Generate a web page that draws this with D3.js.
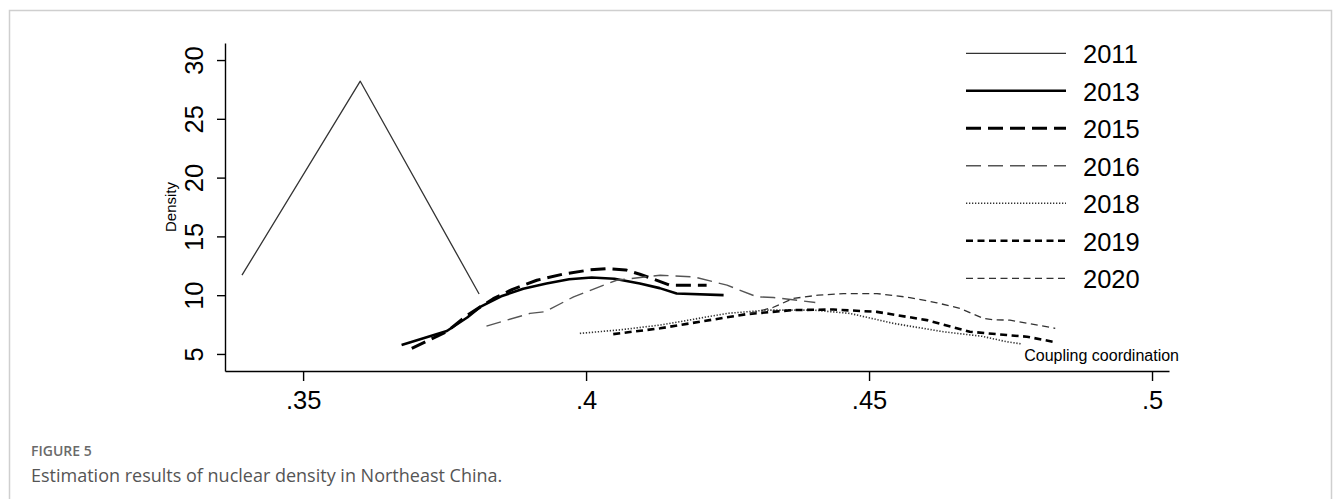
<!DOCTYPE html>
<html><head><meta charset="utf-8">
<script src="https://cdn.jsdelivr.net/npm/d3@7"></script>
<style>body{margin:0;background:#fff}svg{display:block}</style>
</head><body>
<script>
const years = ["2011","2013","2015","2016","2018","2019","2020"];
const x2011 = [0.3392, 0.3601, 0.3811];
const y2011 = [11.7, 28.2, 10.1];
const x2013 = [0.3674,0.3754,0.3790,0.3813,0.3850,0.3889,0.3930,0.3970,0.4010,0.4050,0.4095,0.4130,0.4160,0.4243];
const y2013 = [5.76,6.95,8.1,9.0,9.9,10.55,11.0,11.35,11.5,11.4,11.0,10.6,10.14,10.0];
const x2015 = [0.3692,0.3754,0.3790,0.3836,0.3870,0.3913,0.3960,0.4007,0.4037,0.4070,0.4095,0.4120,0.4148,0.4213];
const y2015 = [5.48,6.9,8.3,9.7,10.5,11.27,11.8,12.15,12.26,12.15,11.78,11.35,10.85,10.85];
const x2016 = [0.3824,0.3901,0.3928,0.3978,0.4054,0.4131,0.4190,0.4249,0.4302,0.4331,0.4405];
const y2016 = [7.37,8.45,8.6,9.86,11.27,11.7,11.56,10.85,9.86,9.8,9.38];
const x2018 = [0.3989,0.4060,0.4131,0.4190,0.4249,0.4319,0.4402,0.4466,0.4543,0.4631,0.4700,0.4743,0.4770];
const y2018 = [6.75,7.05,7.46,7.95,8.45,8.73,8.73,8.45,7.6,6.89,6.5,6.04,5.85];
const x2019 = [0.4048,0.4131,0.4201,0.4284,0.4366,0.4437,0.4514,0.4602,0.4678,0.4743,0.4779,0.4829];
const y2019 = [6.69,7.18,7.74,8.39,8.73,8.78,8.58,7.88,6.89,6.61,6.47,6.0];
const x2020 = [0.4290,0.4330,0.4366,0.4410,0.4455,0.4514,0.4572,0.4620,0.4661,0.4702,0.4720,0.4749,0.4829];
const y2020 = [8.45,8.95,9.72,10.0,10.14,10.14,9.8,9.35,8.87,8.02,7.9,7.88,7.18];
const xTicks = [0.35, 0.4, 0.45, 0.5];
const yTicks = [5, 10, 15, 20, 25, 30];

const seriesX = [x2011,x2013,x2015,x2016,x2018,x2019,x2020];
const seriesY = [y2011,y2013,y2015,y2016,y2018,y2019,y2020];
const styles = [
  {w:1.3, c:"#333", d:null},
  {w:2.6, c:"#000", d:null},
  {w:3, c:"#000", d:"15,7"},
  {w:1.4, c:"#555", d:"15,7"},
  {w:1.6, c:"#333", d:"1.3,1.7"},
  {w:2.6, c:"#000", d:"7,4.5"},
  {w:1.3, c:"#333", d:"7,4.5"}
];

const W = 1333, H = 499;
const svg = d3.select("body").append("svg").attr("width", W).attr("height", H);

// frame
svg.append("path").attr("d", `M9.5,499 L9.5,10.5 L1331.5,10.5 L1331.5,499`)
  .attr("fill","none").attr("stroke","#cfcfcf").attr("stroke-width",1.5);

const x = d3.scaleLinear().domain([0.3362, 0.5030]).range([225, 1169]);
const y = d3.scaleLinear().domain([3.55, 31.45]).range([371, 43]);

const fmt = v => d3.format(".2~f")(v).replace(/^0\./, ".");
const font = "Liberation Sans, Arial, Helvetica, sans-serif";

const gx = svg.append("g").attr("transform","translate(0,371)")
  .call(d3.axisBottom(x).tickValues(xTicks).tickFormat(fmt).tickSize(10).tickSizeOuter(0).tickPadding(10));
gx.selectAll("text").attr("font-size", 25.5).attr("font-family", font).attr("fill","#000").attr("dy","0.71em");
gx.selectAll("path,line").attr("stroke","#000").attr("stroke-width",1.4);

const gy = svg.append("g").attr("transform","translate(225,0)")
  .call(d3.axisLeft(y).tickValues(yTicks).tickFormat(d3.format("d")).tickSize(8).tickSizeOuter(0));
gy.selectAll("path,line").attr("stroke","#000").attr("stroke-width",1.4);
gy.selectAll("text").attr("font-size", 25.5).attr("font-family", font).attr("fill","#000")
  .attr("x", null).attr("dy", null)
  .attr("text-anchor","middle")
  .attr("transform", "translate(-22,0) rotate(-90)");

svg.append("text").attr("transform", `translate(176,${y(17.5)}) rotate(-90)`)
  .attr("text-anchor","middle").attr("font-size",15).attr("font-family",font).text("Density");

svg.append("text").attr("x", x(0.5)+27).attr("y", 361).attr("text-anchor","end")
  .attr("font-size",16).attr("font-family",font).text("Coupling coordination");

const line = d3.line().x(d => x(d[0])).y(d => y(d[1]));
seriesX.forEach((xs, i) => {
  const pts = xs.map((v, j) => [v, seriesY[i][j]]);
  const s = styles[i];
  svg.append("path").datum(pts).attr("d", line)
    .attr("fill","none").attr("stroke", s.c).attr("stroke-width", s.w)
    .attr("stroke-dasharray", s.d).attr("stroke-linejoin","round");
});

// legend
const lg = svg.append("g");
years.forEach((yr, i) => {
  const cy = 53.3 + i*37.5;
  const s = styles[i];
  lg.append("line").attr("x1",966).attr("x2",1066).attr("y1",cy).attr("y2",cy)
    .attr("stroke", s.c).attr("stroke-width", s.w).attr("stroke-dasharray", s.d);
  lg.append("text").attr("x",1083).attr("y",cy+10).attr("font-size",25.5)
    .attr("font-family",font).attr("fill","#000").text(yr);
});

// caption
svg.append("text").attr("x",31).attr("y",456).attr("font-size",14).attr("font-weight",600)
  .attr("font-family","Open Sans, Noto Sans, sans-serif").attr("fill","#6a6a6a").text("FIGURE 5");
svg.append("text").attr("x",31).attr("y",482).attr("font-size",18)
  .attr("font-family","Open Sans, Noto Sans, sans-serif").attr("fill","#555")
  .text("Estimation results of nuclear density in Northeast China.");
</script>
</body></html>
